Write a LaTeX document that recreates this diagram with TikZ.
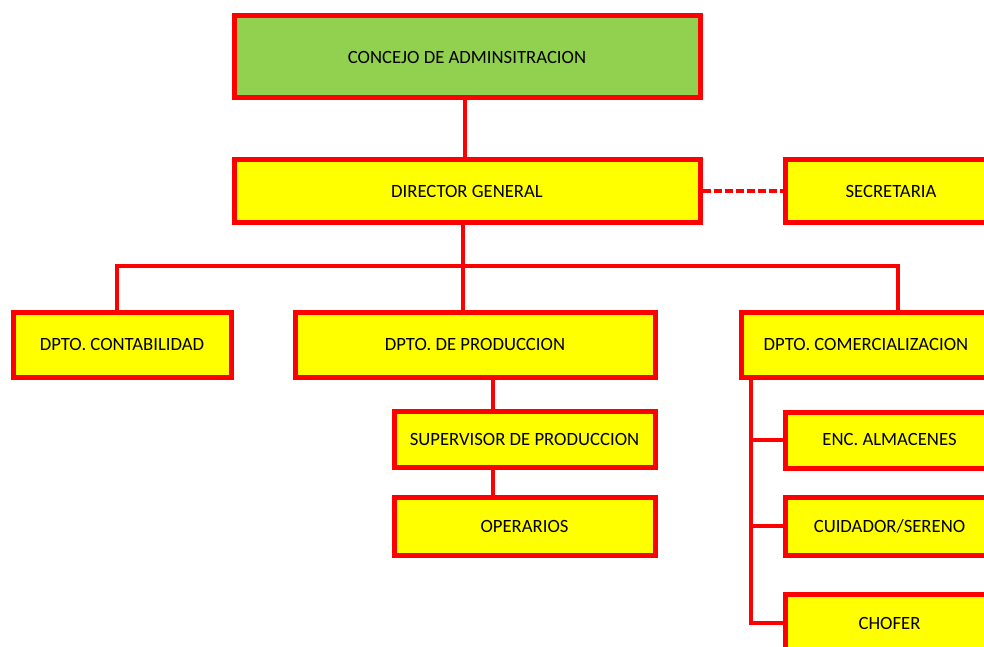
\documentclass[tikz,border=0pt]{standalone}
\usepackage{fontspec}
\setmainfont{Carlito}
\definecolor{boxred}{HTML}{FF0000}
\definecolor{boxyellow}{HTML}{FFFF00}
\definecolor{boxgreen}{HTML}{92D050}
\tikzset{
  orgbox/.style={draw=boxred, line width=5pt, fill=boxyellow, inner sep=0pt,
    font=\fontsize{18.7}{20}\selectfont, text=black, anchor=center},
  conn/.style={draw=boxred, line width=4pt},
  dashconn/.style={draw=boxred, line width=4pt, dash pattern=on 8pt off 3pt}
}
\begin{document}
\begin{tikzpicture}[x=1pt,y=-1pt]
\useasboundingbox (0,0) rectangle (984,647);
\clip (0,0) rectangle (984,647);
\fill[white] (0,0) rectangle (984,647);
% boxes
\node[orgbox, fill=boxgreen, minimum width=466pt, minimum height=82pt] (concejo) at (467,57) {CONCEJO DE ADMINSITRACION};
\node[orgbox, minimum width=466pt, minimum height=62pt] (director) at (467,191) {DIRECTOR GENERAL};
\node[orgbox, minimum width=212pt, minimum height=62pt] (secretaria) at (891,191) {SECRETARIA};
\node[orgbox, minimum width=218pt, minimum height=65pt] (contab) at (122,344.5) {DPTO. CONTABILIDAD};
\node[orgbox, minimum width=360pt, minimum height=65pt] (produccion) at (475,344.5) {DPTO. DE PRODUCCION};
\node[orgbox, minimum width=250pt, minimum height=65pt] (comercial) at (866,344.5) {DPTO. COMERCIALIZACION};
\node[orgbox, minimum width=261pt, minimum height=56pt] (supervisor) at (524.5,439) {SUPERVISOR DE PRODUCCION};
\node[orgbox, minimum width=261pt, minimum height=58pt] (operarios) at (524.5,526) {OPERARIOS};
\node[orgbox, minimum width=209pt, minimum height=56pt] (enc) at (889.5,440) {ENC. ALMACENES};
\node[orgbox, minimum width=209pt, minimum height=58pt] (cuidador) at (889.5,526) {CUIDADOR/SERENO};
\node[orgbox, minimum width=209pt, minimum height=58pt] (chofer) at (889.5,623) {CHOFER};
% helper coordinates
\coordinate (topx) at (465,0);
\coordinate (busL) at (117,266);
\coordinate (busM) at (463,266);
\coordinate (busR) at (898,266);
\coordinate (prodx) at (493,0);
\coordinate (comx) at (751,0);
% connectors
\draw[conn] (concejo.south -| topx) -- (director.north -| topx);
\draw[conn] (director.south -| busM) -- (produccion.north -| busM);
\draw[conn] (contab.north -| busL) -- (busL) -- (busR) -- (comercial.north -| busR);
\draw[conn] (produccion.south -| prodx) -- (supervisor.north -| prodx);
\draw[conn] (supervisor.south -| prodx) -- (operarios.north -| prodx);
\draw[conn] (comercial.south -| comx) |- (chofer.west);
\draw[conn] (comx |- enc.west) -- (enc.west);
\draw[conn] (comx |- cuidador.west) -- (cuidador.west);
\draw[dashconn] (director.east) -- (secretaria.west);
\end{tikzpicture}
\end{document}
